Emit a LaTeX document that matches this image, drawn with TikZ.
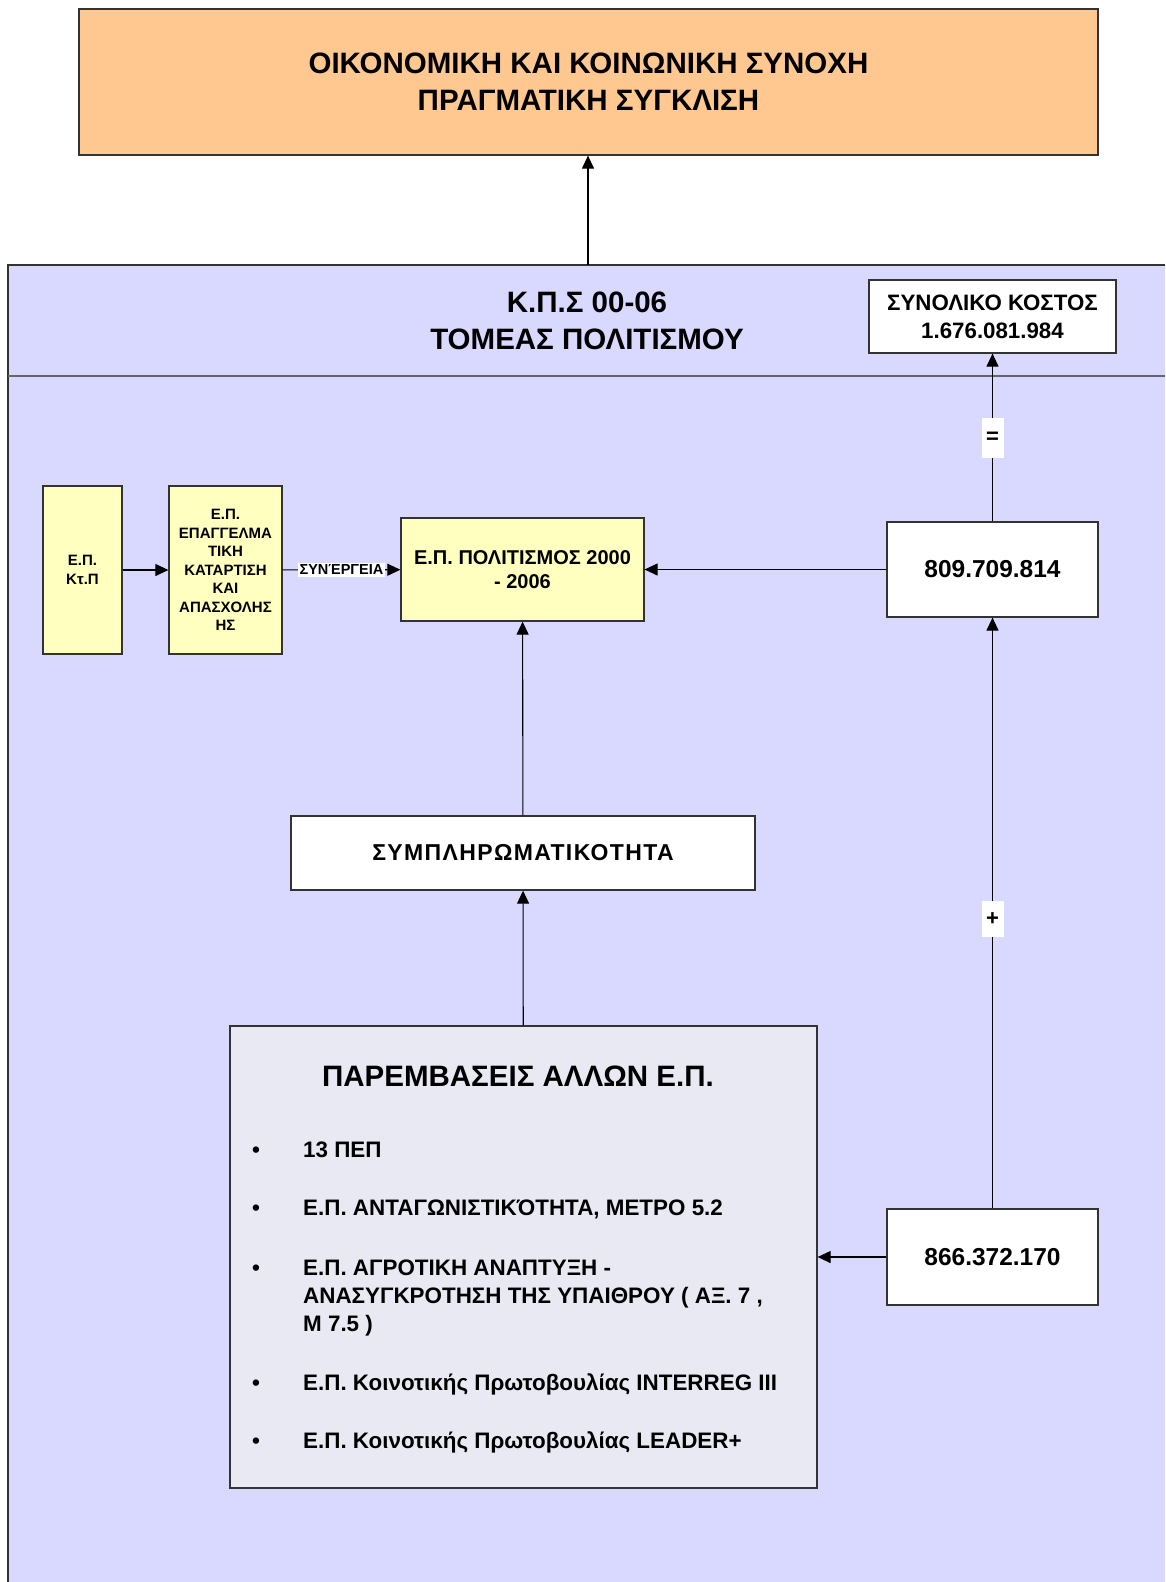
\documentclass[tikz,border=0pt]{standalone}
\usepackage{fontspec}
\setmainfont{Liberation Sans}
\usetikzlibrary{arrows.meta}

\definecolor{peach}{RGB}{255,200,145}
\definecolor{lilac}{RGB}{217,217,255}
\definecolor{paleyellow}{RGB}{255,255,192}
\definecolor{palegrey}{RGB}{233,233,244}
\definecolor{boxline}{RGB}{51,51,51}

\begin{document}
\begin{tikzpicture}
	[x=1pt, y=-1pt,
	 block/.style ={draw=boxline, line width=1.2pt, inner sep=0pt, align=center},
	 arr/.style ={-{Triangle[length=13pt,width=12pt]}, line width=1.1pt},
	 tag/.style ={fill=white, inner sep=0pt, minimum width=22, font=\fontsize{22}{22}\selectfont\bfseries}]
	\useasboundingbox (0,0) rectangle (1165,1582);
	% panel of the sector
	\fill[lilac] (8,265) rectangle (1165,1582);
	\draw[boxline, line width=2pt] (8,1582) -- (8,265) -- (1165,265);
	\draw[black!60, line width=2pt] (8,376) -- (1165,376);
	\coordinate (kpstop) at (588,265);
	\node[font=\fontsize{29.5}{37}\selectfont\bfseries, align=center] (kps) at (587,321) {Κ.Π.Σ 00-06\\ΤΟΜΕΑΣ ΠΟΛΙΤΙΣΜΟΥ};

	\node[block, fill=peach, minimum width=1019, minimum height=146, font=\fontsize{29.5}{37}\selectfont\bfseries] (synoxi) at (588.5,82) {ΟΙΚΟΝΟΜΙΚΗ ΚΑΙ ΚΟΙΝΩΝΙΚΗ ΣΥΝΟΧΗ\\ΠΡΑΓΜΑΤΙΚΗ ΣΥΓΚΛΙΣΗ};
	\node[block, fill=white, minimum width=247, minimum height=73, font=\fontsize{22.3}{28}\selectfont\bfseries] (kostos) at (992.5,316.5) {ΣΥΝΟΛΙΚΟ ΚΟΣΤΟΣ\\1.676.081.984};

	\node[block, fill=paleyellow, minimum width=79, minimum height=168, font=\fontsize{15}{18.5}\selectfont\bfseries] (ktp) at (82.5,570) {Ε.Π.\\Κτ.Π};
	\node[block, fill=paleyellow, minimum width=113, minimum height=168, font=\fontsize{15}{18.5}\selectfont\bfseries] (epag) at (225.5,570) {Ε.Π.\\ΕΠΑΓΓΕΛΜΑ\\ΤΙΚΗ\\ΚΑΤΑΡΤΙΣΗ\\ΚΑΙ\\ΑΠΑΣΧΟΛΗΣ\\ΗΣ};
	\node[block, fill=paleyellow, minimum width=243, minimum height=103, font=\fontsize{20}{24}\selectfont\bfseries] (polit) at (522.5,569.5) {Ε.Π. ΠΟΛΙΤΙΣΜΟΣ 2000\\- 2006};
	\node[block, fill=white, minimum width=211, minimum height=95, font=\fontsize{24.5}{24.5}\selectfont\bfseries] (ep809) at (992.5,569.5) {809.709.814};
	\node[block, fill=white, minimum width=464, minimum height=74, font=\fontsize{23}{23}\selectfont\bfseries\addfontfeature{LetterSpace=6}] (sympl) at (523,853) {ΣΥΜΠΛΗΡΩΜΑΤΙΚΟΤΗΤΑ};
	\node[block, fill=palegrey, minimum width=587, minimum height=462] (parem) at (523.5,1257) {};
	\node[block, fill=white, minimum width=211, minimum height=96, font=\fontsize{24.5}{24.5}\selectfont\bfseries] (ep866) at (992.5,1257) {866.372.170};

	% contents of the other programmes
	\node[font=\fontsize{29.5}{29.5}\selectfont\bfseries] (paremtitle) at (518,1076) {ΠΑΡΕΜΒΑΣΕΙΣ ΑΛΛΩΝ Ε.Π.};
	\begin{scope}[every node/.style={anchor=base west, inner sep=0pt, font=\fontsize{22.4}{22.4}\selectfont\bfseries}]
		\node (b1) at (252,1157) {•};
		\node (b2) at (252,1215) {•};
		\node (b3) at (252,1275) {•};
		\node (b4) at (252,1390) {•};
		\node (b5) at (252,1448) {•};
		\node (i1) at (303,1157) {13 ΠΕΠ};
		\node (i2) at (303,1215) {Ε.Π. ΑΝΤΑΓΩΝΙΣΤΙΚΌΤΗΤΑ, ΜΕΤΡΟ 5.2};
		\node (i3a) at (303,1275) {Ε.Π. ΑΓΡΟΤΙΚΗ ΑΝΑΠΤΥΞΗ -};
		\node (i3b) at (303,1303) {ΑΝΑΣΥΓΚΡΟΤΗΣΗ ΤΗΣ ΥΠΑΙΘΡΟΥ ( ΑΞ. 7 ,};
		\node (i3c) at (303,1331) {Μ 7.5 )};
		\node (i4) at (303,1390) {Ε.Π. Κοινοτικής Πρωτοβουλίας INTERREG III};
		\node (i5) at (303,1448) {Ε.Π. Κοινοτικής Πρωτοβουλίας LEADER+};
	\end{scope}

	% connectors
	\draw[arr] (kpstop) -- (kpstop |- synoxi.south);
	\draw[arr] (ktp) -- (epag);
	\draw[arr] (epag) -- node[fill=white, inner sep=2pt, font=\fontsize{14.5}{14.5}\selectfont\bfseries] (syn) {ΣΥΝΈΡΓΕΙΑ} (polit);
	\draw[arr] (ep809) -- (polit);
	\draw[arr] (sympl) -- (polit);
	\draw[arr] (parem) -- (sympl);
	\draw[arr] (ep809) -- node[tag, minimum height=40] (eq) {=} (kostos);
	\draw[arr] (ep866) -- node[tag, minimum height=36, pos=.49] (plus) {+} (ep809);
	\draw[arr] (ep866) -- (parem);
\end{tikzpicture}
\end{document}
